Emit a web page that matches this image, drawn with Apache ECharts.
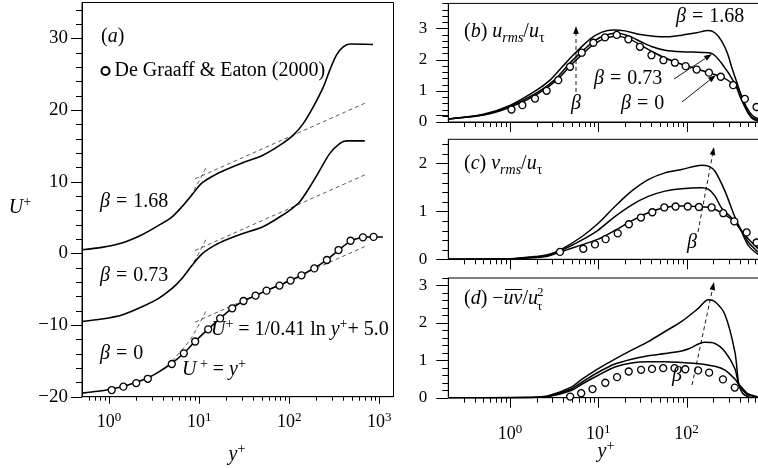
<!DOCTYPE html>
<html><head><meta charset="utf-8">
<script src="https://cdn.jsdelivr.net/npm/echarts@6/dist/echarts.min.js"></script>
<style>html,body{margin:0;padding:0;background:#fff}#c{width:758px;height:468px}</style>
</head><body><div id="c"></div>
<script>
// ---------- Panel (a): mean velocity U+ (curves offset by 0, +10, +20) ----------
const aBeta0 = [[0.5,-19.5],[0.75,-19.25],[1,-19.0],[1.5,-18.5],[2,-18.0],[2.7,-17.35],[3.5,-16.6],[5,-15.3],[6.8,-13.9],[9,-12.3],[12.5,-10.6],[17,-9.1],[23,-7.7],[31,-6.65],[42,-5.9],[56,-5.2],[78,-4.45],[103,-3.8],[137,-3.05],[190,-2.05],[262,-0.9],[353,0.45],[480,1.7],[600,2.15],[750,2.28],[1100,2.28]];
const aBeta073 = [[0.5,-9.5],[0.83,-9.17],[1.39,-8.6],[2.32,-7.45],[3.55,-6.28],[5,-4.9],[6.44,-3.5],[8.3,-1.7],[10.7,-0.1],[15,1.15],[21,2.0],[30,2.75],[51,3.72],[79,5.1],[102,6.04],[131,7.2],[170,9.3],[219,11.6],[283,13.95],[366,15.35],[433,15.7],[692,15.7]];
const aBeta168 = [[0.5,0.5],[0.83,0.83],[1.39,1.45],[2.32,2.6],[3.55,3.9],[5,5.1],[6.44,6.5],[8.3,8.15],[10.7,9.8],[15,10.95],[21,11.8],[30,12.6],[51,13.7],[79,15.1],[111,16.5],[143,18.1],[185,20.45],[239,23.2],[283,25.6],[336,27.7],[398,28.8],[472,29.2],[853,29.15]];
const aLog0 = [[9,-9.6],[690,0.94]];
const aLog073 = [[9,0.4],[690,10.94]];
const aLog168 = [[9,10.4],[690,20.94]];
const aLin0 = [[5,-15],[8,-12],[12.3,-7.7]];
const aLin073 = [[5,-5],[8,-2],[12.3,2.3]];
const aLin168 = [[5,5],[8,8],[12.3,12.3]];
const aExpX = [1.07,1.44,2.0,2.69,4.97,6.76,9.03,12.6,17.1,23.3,31.1,42.3,56,78,103.5,137,190,262,353,480,659,865];
const aExpY = [-19.07,-18.6,-18.1,-17.5,-15.44,-13.95,-12.3,-10.6,-9.07,-7.67,-6.65,-5.9,-5.2,-4.5,-3.8,-3.07,-2.1,-0.93,0.46,1.76,2.23,2.3];

// ---------- Panel (b): u_rms/u_tau ----------
const bBeta0 = [[0.2,0.1],[0.5,0.22],[1,0.47],[2,0.88],[3.38,1.34],[5,1.85],[6.76,2.2],[9,2.5],[12,2.68],[16,2.75],[22,2.67],[30,2.47],[40,2.27],[57,2.05],[88,1.85],[148,1.65],[209,1.52],[270,1.4],[323,1.25],[385,1.07],[476,0.48],[560,0.2],[646,0.11]];
const bBeta073 = [[0.2,0.1],[0.5,0.23],[1,0.5],[2,0.93],[3.18,1.34],[5,1.95],[6.2,2.2],[9,2.6],[12,2.78],[16,2.84],[22,2.76],[30,2.58],[40,2.42],[57,2.3],[88,2.25],[148,2.23],[192,2.2],[249,1.88],[352,1.23],[420,0.7],[545,0.16],[646,0.08]];
const bBeta168 = [[0.2,0.1],[0.5,0.25],[1,0.53],[2,1.02],[2.84,1.34],[4,1.8],[5.44,2.2],[8,2.65],[11,2.88],[15,2.95],[20,2.92],[30,2.8],[45,2.74],[60,2.73],[88,2.78],[130,2.86],[176,2.93],[209,2.86],[249,2.6],[290,2.2],[323,1.77],[385,1.13],[457,0.48],[545,0.13],[646,0.03]];
const bExpX = [1.04,1.38,1.92,2.6,3.52,4.78,6.5,8.8,11.9,16.2,21.9,29.6,40,54.6,73.7,97.5,130,179,244,337,457,620];
const bExpY = [0.40,0.54,0.75,1.0,1.34,1.77,2.22,2.54,2.71,2.79,2.65,2.41,2.14,1.98,1.90,1.79,1.68,1.58,1.45,1.18,0.74,0.48];

// ---------- Panel (c): v_rms/u_tau ----------
const cBeta0 = [[0.2,0.002],[1,0.01],[2,0.04],[2.72,0.07],[3.68,0.15],[6.48,0.3],[10,0.42],[15.4,0.6],[23.8,0.8],[36.8,0.97],[56.9,1.08],[87.8,1.11],[136,1.1],[192,1.07],[272,0.93],[352,0.77],[412,0.61],[499,0.43],[646,0.22]];
const cBeta073 = [[0.2,0.002],[1,0.01],[2,0.05],[2.72,0.08],[3.68,0.17],[6.48,0.4],[10,0.61],[15.4,0.89],[23.8,1.13],[36.8,1.31],[56.9,1.42],[87.8,1.47],[148,1.49],[176,1.46],[209,1.32],[249,1.07],[352,0.8],[412,0.61],[499,0.36],[646,0.15]];
const cBeta168 = [[0.2,0.002],[1,0.012],[2,0.06],[2.72,0.1],[3.68,0.19],[6.48,0.47],[10,0.75],[15.4,1.1],[23.8,1.42],[36.8,1.66],[56.9,1.8],[87.8,1.87],[148,1.96],[176,1.94],[209,1.84],[272,1.42],[352,0.88],[412,0.61],[499,0.29],[646,0.1]];
const cExpX = [3.68,6.76,9.17,12.1,16.6,22.2,30.4,40.9,55.9,75,103,138,192,260,347,479,620];
const cExpY = [0.154,0.22,0.31,0.42,0.54,0.73,0.87,0.98,1.08,1.10,1.10,1.09,1.08,0.96,0.79,0.56,0.35];

// ---------- Panel (d): -uv/u_tau^2 ----------
const dBeta0 = [[0.2,0],[1,0.002],[2,0.01],[2.72,0.03],[5,0.2],[6.48,0.36],[10,0.6],[15.4,0.82],[23.8,0.93],[36.8,0.96],[57,0.96],[88,0.94],[136,0.91],[209,0.84],[272,0.74],[352,0.5],[390,0.36],[450,0.2],[499,0.1],[646,0.02]];
const dBeta073 = [[0.2,0],[1,0.002],[2,0.012],[2.72,0.04],[5,0.24],[6.48,0.41],[10,0.68],[15.4,0.9],[23.8,1.03],[36.8,1.12],[57,1.18],[88,1.25],[104,1.3],[160,1.48],[209,1.45],[272,1.23],[352,0.78],[390,0.36],[450,0.15],[499,0.07],[646,0.01]];
const dBeta168 = [[0.2,0],[1,0.003],[2,0.015],[2.72,0.05],[5,0.29],[6.48,0.49],[10,0.78],[15.4,1.03],[23.8,1.27],[36.8,1.5],[57,1.77],[88,2.04],[136,2.39],[176,2.62],[209,2.57],[272,2.22],[352,1.23],[390,0.36],[430,0.12],[499,0.02],[545,0]];
const dExpX = [4.8,6.4,8.6,12,16.3,22.1,30.5,40.6,54.3,73,96.6,135,180,258,351];
const dExpY = [0.03,0.12,0.23,0.40,0.55,0.70,0.745,0.77,0.79,0.79,0.76,0.73,0.67,0.49,0.27];

// ---------- Axis tick positions ----------
const xMajorTicks = [1, 10, 100, 1000];
const yMajorA = [-20, -10, 0, 10, 20, 30];
const yMajorR = [0, 1, 2, 3];
const expName = 'De Graaff & Eaton (2000)';

const FONT = 'Liberation Serif';
const zip = (xs, ys) => xs.map((x, i) => [x, ys[i]]);

function minorLog(lo, hi) {
  const out = [];
  for (let e = -1; e <= 3; e++) for (let m = 2; m <= 9; m++) {
    const v = +(m * Math.pow(10, e)).toPrecision(6);
    if (v > lo && v < hi) out.push(v);
  }
  return out;
}
function minorLin(lo, hi, step, majors) {
  const out = []; const n = Math.round((hi - lo) / step);
  for (let i = 0; i <= n; i++) { const v = Math.round((lo + i * step) * 1000) / 1000; if (!majors.includes(v)) out.push(v); }
  return out;
}
function tickData(xmin, xmax, ymin, ymax, yMajor, yStep) {
  const d = [];
  xMajorTicks.filter(v => v > xmin && v < xmax).forEach(v => d.push([v, ymin, 0]));
  minorLog(xmin, xmax).forEach(v => d.push([v, ymin, 1]));
  yMajor.forEach(v => d.push([xmin, v, 2]));
  minorLin(ymin, ymax - 0.001, yStep, yMajor).forEach(v => d.push([xmin, v, 3]));
  return d;
}
function tickSeries(gi, data, lens) {
  return {
    type: 'custom', xAxisIndex: gi, yAxisIndex: gi, data, silent: true, clip: false, z: 10,
    renderItem: function (params, api) {
      const t = api.value(2);
      const p = api.coord([api.value(0), api.value(1)]);
      const L = lens[t];
      let shape;
      if (t < 2) { const x = Math.round(p[0]) + 0.5; shape = { x1: x, y1: p[1], x2: x, y2: p[1] + L }; }
      else { const y = Math.round(p[1]) + 0.5; shape = { x1: p[0] - L, y1: y, x2: p[0], y2: y }; }
      return { type: 'line', shape, style: { stroke: '#000', lineWidth: 1 } };
    }
  };
}

function logLabel(v) {
  const l = Math.log10(v), e = Math.round(l);
  return Math.abs(l - e) < 1e-6 ? '{b|10}{s|' + e + '}' : '';
}
const labRich = {
  b: { fontFamily: FONT, fontSize: 18, color: '#000', lineHeight: 24 },
  s: { fontFamily: FONT, fontSize: 13, color: '#000', verticalAlign: 'top' }
};
function xAx(gi, min, max, show, margin) {
  return {
    type: 'log', logBase: 10, gridIndex: gi, min, max,
    axisLine: { show: true, onZero: false, lineStyle: { color: '#000', width: 1 } },
    axisTick: { show: false }, minorTick: { show: false }, splitLine: { show: false }, minorSplitLine: { show: false },
    axisLabel: { show, margin, formatter: logLabel, rich: labRich, color: '#000', hideOverlap: false }
  };
}
function yAx(gi, min, max, interval, margin, fmt, fs) {
  return {
    type: 'value', gridIndex: gi, min, max, interval,
    axisLine: { show: true, onZero: false, lineStyle: { color: '#000', width: 1 } },
    axisTick: { show: false }, minorTick: { show: false }, splitLine: { show: false },
    axisLabel: { margin, formatter: fmt, fontFamily: FONT, fontSize: fs, color: '#000', showMaxLabel: false }
  };
}
const fmtA = v => (Math.abs(v % 10) < 1e-9 && v <= 30) ? (v < 0 ? '\u2212' + (-v) : String(v)) : '';
const fmtR = v => (Math.abs(v - Math.round(v)) < 1e-9) ? String(Math.round(v)) : '';

function curve(data, gi, w) {
  return { type: 'line', xAxisIndex: gi, yAxisIndex: gi, data, symbol: 'none', smooth: 0.3, silent: true, z: 3,
    lineStyle: { color: '#000', width: w || 1.5 } };
}
function dashed(data, gi, smooth) {
  return { type: 'line', xAxisIndex: gi, yAxisIndex: gi, data, symbol: 'none', smooth: smooth ? 0.3 : false, silent: true, z: 2,
    lineStyle: { color: '#333', width: 0.8, type: [4, 3] } };
}
function dots(data, gi) {
  return { type: 'scatter', name: expName, xAxisIndex: gi, yAxisIndex: gi, data, symbol: 'circle', symbolSize: 7, silent: true, z: 5,
    itemStyle: { color: '#fff', borderColor: '#000', borderWidth: 1.3, opacity: 1 } };
}

// ---------- text helpers ----------
function rich(size) {
  const sub = Math.round(size * 0.68);
  const base = { fontFamily: FONT, fill: '#000', color: '#000' };
  return {
    n: Object.assign({ fontSize: size, lineHeight: size + 6 }, base),
    e: Object.assign({ fontSize: size, lineHeight: size + 6, padding: [0, 1, 0, 1] }, base),
    i: Object.assign({ fontSize: size, lineHeight: size + 6, fontStyle: 'italic' }, base),
    sp: Object.assign({ fontSize: sub, verticalAlign: 'top' }, base),
    sb: Object.assign({ fontSize: sub, verticalAlign: 'bottom' }, base),
    sbi: Object.assign({ fontSize: sub, verticalAlign: 'bottom', fontStyle: 'italic' }, base)
  };
}
function txt(x, y, text, size, align) {
  return { type: 'text', x, y, z: 100, silent: true,
    style: { text, rich: rich(size), align: align || 'left', verticalAlign: 'middle', fontFamily: FONT, fontSize: size, fill: '#000' } };
}
function arrow(x1, y1, x2, y2, dash) {
  const a = Math.atan2(y2 - y1, x2 - x1), L = 8, W = 2.8;
  const bx = x2 - L * Math.cos(a), by = y2 - L * Math.sin(a);
  const px = -Math.sin(a) * W, py = Math.cos(a) * W;
  return [
    { type: 'line', z: 100, silent: true, shape: { x1, y1, x2: bx, y2: by }, style: { stroke: '#000', lineWidth: 0.9, lineDash: dash ? [4, 3] : null } },
    { type: 'polygon', z: 100, silent: true, shape: { points: [[x2, y2], [bx + px, by + py], [bx - px, by - py]] }, style: { fill: '#000' } }
  ];
}
const cv = document.createElement('canvas').getContext('2d');
function tw(s, size, it) { cv.font = (it ? 'italic ' : '') + size + 'px "' + FONT + '"'; return cv.measureText(s).width; }

const S = 20;
const dX = 464, dY = 299;
const w1 = tw('(', S) + tw('d', S, true) + tw(') \u2212', S);
const wuv = tw('uv', S, true);
const wr = tw('/', S) + tw('u', S, true);

const graphics = [
  txt(101, 37, '{n|(}{i|a}{n|)}', S),
  txt(100, 202, '{i|β}{e| = }{n|1.68}', S),
  txt(100, 276, '{i|β}{e| = }{n|0.73}', S),
  txt(100, 354, '{i|β}{e| = }{n|0}', S),
  txt(211, 330, '{i|U}{sp|+}{n| = 1/0.41 ln }{i|y}{sp|+}{n|+ 5.0}', S),
  txt(182, 370, '{i|U}{sp| +}{n| = }{i|y}{sp|+}', S),
  txt(20, 208, '{i|U}{sp|+}', S, 'center'),
  txt(237, 455, '{i|y}{sp|+}', S, 'center'),
  txt(606, 452, '{i|y}{sp|+}', S, 'center'),
  // (b)
  txt(464, 32, '{n|(}{i|b}{n|) }{i|u}{sbi|rms}{n|/}{i|u}{sb|τ}', S),
  txt(676, 17, '{i|β}{e| = }{n|1.68}', S),
  txt(594, 79, '{i|β}{e| = }{n|0.73}', S),
  txt(621, 104, '{i|β}{e| = }{n|0}', S),
  ...arrow(674, 79, 712, 54, false),
  ...arrow(682, 102, 716, 75, false),
  ...arrow(576, 92, 576, 26, true),
  txt(576, 104, '{i|β}', S, 'center'),
  // (c)
  txt(464, 164, '{n|(}{i|c}{n|) }{i|v}{sbi|rms}{n|/}{i|u}{sb|τ}', S),
  ...arrow(698, 232, 714, 147, true),
  txt(692, 243, '{i|β}', S, 'center'),
  // (d)
  txt(dX, dY, '{n|(}{i|d}{n|) \u2212}{i|uv}{n|/}{i|u}', S),
  { type: 'line', z: 100, silent: true, shape: { x1: dX + w1 + 1.5, y1: dY - 9.5, x2: dX + w1 + wuv - 0.5, y2: dY - 9.5 }, style: { stroke: '#000', lineWidth: 1 } },
  { type: 'text', x: dX + w1 + wuv + wr - 1, y: dY - 6, z: 100, silent: true, style: { text: '2', fontFamily: FONT, fontSize: 13, fill: '#000', verticalAlign: 'middle' } },
  { type: 'text', x: dX + w1 + wuv + wr - 1, y: dY + 8, z: 100, silent: true, style: { text: 'τ', fontFamily: FONT, fontSize: 13, fill: '#000', verticalAlign: 'middle' } },
  ...arrow(692, 385, 714, 282, true),
  txt(677, 376, '{i|β}', S, 'center')
];

const RMAX = 1093;
const option = {
  animation: false,
  backgroundColor: '#fff',
  grid: [
    { left: 82, top: 2.5, width: 311.5, height: 394.2, show: true, borderColor: '#000', borderWidth: 1, outerBoundsMode: 'none', containLabel: false },
    { left: 448.3, top: 3.4, width: 330, height: 118.6, show: true, borderColor: '#000', borderWidth: 1, outerBoundsMode: 'none', containLabel: false },
    { left: 448.3, top: 139.3, width: 330, height: 120, show: true, borderColor: '#000', borderWidth: 1, outerBoundsMode: 'none', containLabel: false },
    { left: 448.3, top: 278, width: 330, height: 119.7, show: true, borderColor: '#000', borderWidth: 1, outerBoundsMode: 'none', containLabel: false }
  ],
  xAxis: [xAx(0, 0.5, 1440, true, 14), xAx(1, 0.2, RMAX, false, 8), xAx(2, 0.2, RMAX, false, 8), xAx(3, 0.2, RMAX, true, 25)],
  yAxis: [yAx(0, -20, 35, 10, 14, fmtA, 19), yAx(1, 0, 3.8, 1, 21, fmtR, 17), yAx(2, 0, 2.5, 1, 21, fmtR, 17), yAx(3, 0, 3.2, 1, 21, fmtR, 17)],
  legend: {
    data: [expName], left: 100.5, top: 61, padding: 0, itemWidth: 8, itemHeight: 8, selectedMode: false,
    textStyle: { fontFamily: FONT, fontSize: S, color: '#000' }
  },
  graphic: graphics,
  series: [
    tickSeries(0, tickData(0.5, 1440, -20, 35, yMajorA, 2), [7, 4, 11, 6]),
    tickSeries(1, tickData(0.2, RMAX, 0, 3.8, yMajorR, 0.2), [10, 5, 12, 6]),
    tickSeries(2, tickData(0.2, RMAX, 0, 2.5, yMajorR, 0.2), [10, 5, 12, 6]),
    tickSeries(3, tickData(0.2, RMAX, 0, 3.2, yMajorR, 0.2), [10, 5, 12, 6]),
    curve(aBeta0, 0, 1.6), curve(aBeta073, 0, 1.6), curve(aBeta168, 0, 1.6),
    dashed(aLog0, 0), dashed(aLog073, 0), dashed(aLog168, 0),
    dashed(aLin0, 0, true), dashed(aLin073, 0, true), dashed(aLin168, 0, true),
    dots(zip(aExpX, aExpY), 0),
    curve(bBeta0, 1), curve(bBeta073, 1), curve(bBeta168, 1), dots(zip(bExpX, bExpY), 1),
    curve(cBeta0, 2), curve(cBeta073, 2), curve(cBeta168, 2), dots(zip(cExpX, cExpY), 2),
    curve(dBeta0, 3), curve(dBeta073, 3), curve(dBeta168, 3), dots(zip(dExpX, dExpY), 3)
  ]
};
const chart = echarts.init(document.getElementById('c'), null, { renderer: 'canvas' });
chart.setOption(option);
</script></body></html>
